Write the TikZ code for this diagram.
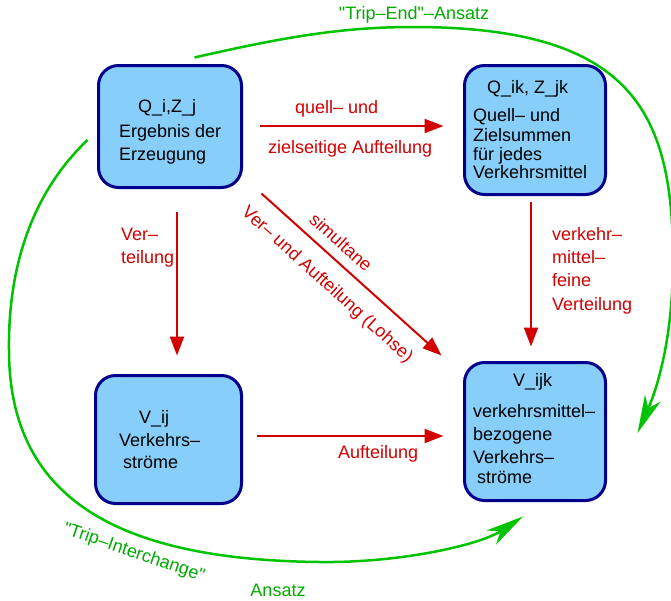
\documentclass[tikz,border=0pt]{standalone}
\usepackage{fontspec}
\setmainfont{Liberation Sans}[Ligatures=TeXOff]
\usetikzlibrary{arrows.meta,calc}
\definecolor{boxfill}{RGB}{135,206,250}
\definecolor{boxline}{RGB}{0,0,140}
\definecolor{myred}{RGB}{210,0,0}
\definecolor{mygreen}{RGB}{0,195,0}
\definecolor{greentext}{RGB}{0,170,0}
\begin{document}
\begin{tikzpicture}[x=1pt,y=-1pt,
 box/.style={draw=boxline, fill=boxfill, line width=3pt, rounded corners=20pt, inner sep=0pt},
 txt/.style={font=\fontsize{18}{22}\selectfont, inner sep=0pt, anchor=base west},
 rtxt/.style={txt, text=myred},
 gtxt/.style={font=\fontsize{18}{22}\selectfont, inner sep=0pt, text=greentext},
 rarrow/.style={draw=myred, line width=2pt, -{Triangle[length=19pt,width=14pt]}},
 garrow/.style={draw=mygreen, line width=2.5pt, -{Stealth[length=38pt,width=17pt,inset=11pt]}},
]
\useasboundingbox (0,0) rectangle (671,600);

% boxes
\node[box, minimum width=143pt, minimum height=122pt] (qz) at (170,126.5) {};
\node[box, minimum width=141pt, minimum height=129pt] (qik) at (535,130) {};
\node[box, minimum width=146pt, minimum height=128pt] (vij) at (168.5,439.5) {};
\node[box, minimum width=141pt, minimum height=138pt] (vijk) at (535,431.5) {};

% box texts
\node[txt] (qzt) at (138,112) {Q\_i,Z\_j};
\node[txt] (qz1) at (119,137) {Ergebnis der};
\node[txt] (qz2) at (119,160) {Erzeugung};

\node[txt] (qikt) at (487,93) {Q\_ik, Z\_jk};
\node[txt] (qik1) at (473,121) {Quell– und};
\node[txt] (qik2) at (473,141) {Zielsummen};
\node[txt] (qik3) at (473,160) {für jedes};
\node[txt] (qik4) at (473,178) {Verkehrsmittel};

\node[txt] (vijt) at (139,423) {V\_ij};
\node[txt] (vij1) at (119,446) {Verkehrs–};
\node[txt] (vij2) at (123,468) {ströme};

\node[txt] (vijkt) at (513,386) {V\_ijk};
\node[txt] (vijk1) at (473,417) {verkehrsmittel–};
\node[txt] (vijk2) at (473,440) {bezogene};
\node[txt] (vijk3) at (473,463) {Verkehrs–};
\node[txt] (vijk4) at (477,483) {ströme};

% red arrows
\draw[rarrow] ($(qz.east)+(16.5,-0.5)$) -- ($(qik.west)+(-19.5,-4)$);
\draw[rarrow] ($(qz.south)+(7,22.5)$) -- ($(vij.north)+(8.5,-18.5)$);
\draw[rarrow] ($(qz.south east)+(18.5,4.5)$) -- ($(vijk.north west)+(-21.5,-5.5)$);
\draw[rarrow] ($(qik.south)+(-4,5.5)$) -- ($(vijk.north)+(-4,-14.5)$);
\draw[rarrow] ($(vij.east)+(13.5,-3.5)$) -- ($(vijk.west)+(-19.5,4.5)$);

% red labels
\node[rtxt] (l1) at (295,113) {quell– und};
\node[rtxt] (l2) at (268,153) {zielseitige Aufteilung};
\node[rtxt] (l3) at (121,240) {Ver–};
\node[rtxt] (l4) at (121,263) {teilung};
\node[rtxt, anchor=center, rotate=-42] (l5) at (341,242) {simultane};
\node[rtxt, anchor=center, rotate=-42] (l6) at (327,285) {Ver– und Aufteilung (Lohse)};
\node[rtxt] (l7) at (552,240) {verkehr–};
\node[rtxt] (l8) at (552,263) {mittel–};
\node[rtxt] (l9) at (552,286) {feine};
\node[rtxt] (l10) at (552,310) {Verteilung};
\node[rtxt] (l11) at (338,458) {Aufteilung};

% green curves
\coordinate (te1) at ($(qz.north east)+(-48.5,-6.5)$);
\coordinate (te2) at ($(vijk.east)+(30.5,1.5)$);
\draw[garrow] (te1) .. controls (280,38) and (340,27) .. (413,27)
  .. controls (630,27) and (673,110) .. (673,260)
  .. controls (673,350) and (652,400) .. (te2);
\coordinate (ti1) at ($(qz.west)+(-9.5,13.5)$);
\coordinate (ti2) at ($(vijk.south)+(-12,14.5)$);
\draw[garrow] (ti1) .. controls (30,195) and (8,270) .. (9,350)
  .. controls (9,500) and (120,560) .. (320,562)
  .. controls (400,563) and (480,545) .. (ti2);

% green labels
\node[gtxt] (g1) at (414,15) {"Trip–End"–Ansatz};
\node[gtxt, rotate=-19] (g2) at (134,553) {"Trip–Interchange"};
\node[gtxt] (g3) at (278,590) {Ansatz};
\end{tikzpicture}
\end{document}
